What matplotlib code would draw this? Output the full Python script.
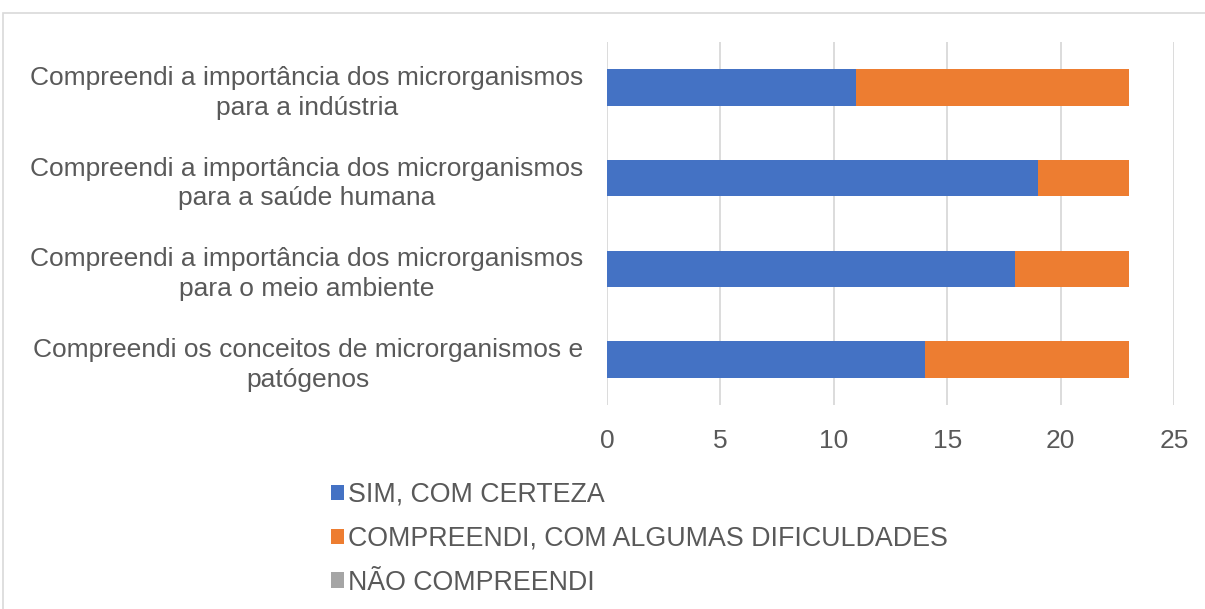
import matplotlib
matplotlib.use("Agg")
import matplotlib.pyplot as plt
from matplotlib.patches import Rectangle
import numpy as np

categories = [
    "Compreendi a importância dos microrganismos\npara a indústria",
    "Compreendi a importância dos microrganismos\npara a saúde humana",
    "Compreendi a importância dos microrganismos\npara o meio ambiente",
    "Compreendi os conceitos de microrganismos e\npatógenos",
]
sim = [11, 19, 18, 14]
algumas = [12, 4, 5, 9]
nao = [0, 0, 0, 0]
series_names = ["SIM, COM CERTEZA", "COMPREENDI, COM ALGUMAS DIFICULDADES", "NÃO COMPREENDI"]
colors = ["#4472c4", "#ed7d31", "#a5a5a5"]
xticks = [0, 5, 10, 15, 20, 25]

plt.rcParams['font.family'] = ['Liberation Sans', 'DejaVu Sans']
txt = "#595959"
fs = 19

fig = plt.figure(figsize=(12.05, 6.09), dpi=100)
ax = fig.add_axes([607/1205, 1-405/609, (1174-607)/1205, (405-42)/609])

y = np.arange(len(categories))[::-1]
left = np.zeros(len(categories))
for vals, name, c in zip([sim, algumas, nao], series_names, colors):
    ax.barh(y, vals, left=left, height=0.4, color=c, label=name, zorder=3)
    left += np.array(vals)

ax.set_xlim(0, 25)
ax.set_ylim(-0.5, len(categories) - 0.5)
ax.set_xticks(xticks)
ax.set_xticklabels([str(t) for t in xticks], fontsize=19, color=txt)
ax.set_yticks(y)
ax.set_yticklabels(categories, fontsize=fs, color=txt, multialignment="center", linespacing=1.3)
ax.tick_params(length=0, pad=17, axis="y")
ax.tick_params(length=0, pad=17, axis="x")
ax.grid(axis="x", color="#d9d9d9", linewidth=1.3, zorder=0)
for s in ax.spines.values():
    s.set_visible(False)

leg = fig.legend(loc="upper left", bbox_to_anchor=(320/1205, 1-471/609), frameon=False,
                 fontsize=fs + 0.3, handlelength=0.5, handleheight=0.5, handletextpad=0.15,
                 labelspacing=0.67, borderaxespad=0)
for t in leg.get_texts():
    t.set_color(txt)

fig.patches.append(Rectangle((3/1205, -0.1), 1.2, 1 - 13/609 + 0.1, transform=fig.transFigure,
                             fill=False, edgecolor="#d9d9d9", linewidth=1.2))

fig.savefig("out.png", dpi=100)
